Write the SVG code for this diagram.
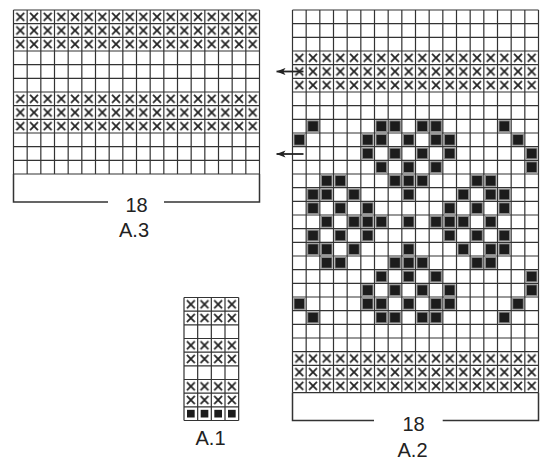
<svg xmlns="http://www.w3.org/2000/svg" xmlns:xlink="http://www.w3.org/1999/xlink" width="550" height="464" viewBox="0 0 550 464">
<style>
.grid{fill:none;stroke:#333;stroke-width:1.2}
.brk{fill:none;stroke:#333;stroke-width:1.5}
.lbl{font-family:"Liberation Sans",Arial,sans-serif;font-size:20px;fill:#222;text-anchor:middle}
.arr{stroke:#222;stroke-width:1.8;fill:none}
</style>
<defs>
<pattern id="xp" width="13.667" height="13.667" patternUnits="userSpaceOnUse">
<path d="M2.9,2.9L10.77,10.77M10.77,2.9L2.9,10.77" stroke="#222" stroke-width="1.8" fill="none"/>
</pattern>
<rect id="f" x="1.5" y="1.5" width="10.67" height="10.67" fill="#1c1c1c" stroke="#8a8a8a" stroke-width="1"/>
<rect id="s" x="3" y="3" width="7.67" height="7.67" fill="#1c1c1c"/>
<marker id="ah" viewBox="0 0 10 8" refX="10" refY="4" markerWidth="9" markerHeight="7.2" markerUnits="userSpaceOnUse" orient="auto">
<path d="M0,0L10,4L0,8L2.5,4Z" fill="#222"/>
</marker>
</defs>
<rect width="550" height="464" fill="#fff"/>

<g id="A3" transform="translate(13.5,10)">
<rect x="0" y="0" width="246" height="41" fill="url(#xp)"/>
<rect x="0" y="82" width="246" height="41" fill="url(#xp)"/>
<path class="grid" d="M0,0V164M13.67,0V164M27.33,0V164M41,0V164M54.67,0V164M68.33,0V164M82,0V164M95.67,0V164M109.33,0V164M123,0V164M136.67,0V164M150.33,0V164M164,0V164M177.67,0V164M191.33,0V164M205,0V164M218.67,0V164M232.33,0V164M246,0V164M0,0H246M0,13.67H246M0,27.33H246M0,41H246M0,54.67H246M0,68.33H246M0,82H246M0,95.67H246M0,109.33H246M0,123H246M0,136.67H246M0,150.33H246M0,164H246"/>
</g>
<g id="A3-label">
<path class="brk" d="M13.5,174V202H108M164,202H259.5V174"/>
<text class="lbl" x="136.5" y="211.5">18</text>
<text class="lbl" x="134" y="237">A.3</text>
</g>

<g id="A2" transform="translate(292.5,10)">
<rect x="0" y="41" width="246" height="41" fill="url(#xp)"/>
<rect x="0" y="341.67" width="246" height="41" fill="url(#xp)"/>
<g id="A2-fill">
<use href="#f" x="13.67" y="109.33"/><use href="#f" x="82" y="109.33"/><use href="#f" x="95.67" y="109.33"/><use href="#f" x="123" y="109.33"/><use href="#f" x="136.67" y="109.33"/><use href="#f" x="205" y="109.33"/>
<use href="#f" x="0" y="123"/><use href="#f" x="68.33" y="123"/><use href="#f" x="82" y="123"/><use href="#f" x="109.33" y="123"/><use href="#f" x="136.67" y="123"/><use href="#f" x="150.33" y="123"/><use href="#f" x="218.67" y="123"/>
<use href="#f" x="68.33" y="136.67"/><use href="#f" x="95.67" y="136.67"/><use href="#f" x="123" y="136.67"/><use href="#f" x="150.33" y="136.67"/><use href="#f" x="232.33" y="136.67"/>
<use href="#f" x="82" y="150.33"/><use href="#f" x="109.33" y="150.33"/><use href="#f" x="136.67" y="150.33"/><use href="#f" x="232.33" y="150.33"/>
<use href="#f" x="27.33" y="164"/><use href="#f" x="41" y="164"/><use href="#f" x="95.67" y="164"/><use href="#f" x="109.33" y="164"/><use href="#f" x="123" y="164"/><use href="#f" x="177.67" y="164"/><use href="#f" x="191.33" y="164"/>
<use href="#f" x="13.67" y="177.67"/><use href="#f" x="27.33" y="177.67"/><use href="#f" x="54.67" y="177.67"/><use href="#f" x="109.33" y="177.67"/><use href="#f" x="164" y="177.67"/><use href="#f" x="191.33" y="177.67"/><use href="#f" x="205" y="177.67"/>
<use href="#f" x="13.67" y="191.33"/><use href="#f" x="41" y="191.33"/><use href="#f" x="68.33" y="191.33"/><use href="#f" x="150.33" y="191.33"/><use href="#f" x="177.67" y="191.33"/><use href="#f" x="205" y="191.33"/>
<use href="#f" x="27.33" y="205"/><use href="#f" x="54.67" y="205"/><use href="#f" x="68.33" y="205"/><use href="#f" x="82" y="205"/><use href="#f" x="109.33" y="205"/><use href="#f" x="136.67" y="205"/><use href="#f" x="150.33" y="205"/><use href="#f" x="164" y="205"/><use href="#f" x="191.33" y="205"/>
<use href="#f" x="13.67" y="218.67"/><use href="#f" x="41" y="218.67"/><use href="#f" x="68.33" y="218.67"/><use href="#f" x="150.33" y="218.67"/><use href="#f" x="177.67" y="218.67"/><use href="#f" x="205" y="218.67"/>
<use href="#f" x="13.67" y="232.33"/><use href="#f" x="27.33" y="232.33"/><use href="#f" x="54.67" y="232.33"/><use href="#f" x="109.33" y="232.33"/><use href="#f" x="164" y="232.33"/><use href="#f" x="191.33" y="232.33"/><use href="#f" x="205" y="232.33"/>
<use href="#f" x="27.33" y="246"/><use href="#f" x="41" y="246"/><use href="#f" x="95.67" y="246"/><use href="#f" x="109.33" y="246"/><use href="#f" x="123" y="246"/><use href="#f" x="177.67" y="246"/><use href="#f" x="191.33" y="246"/>
<use href="#f" x="82" y="259.67"/><use href="#f" x="109.33" y="259.67"/><use href="#f" x="136.67" y="259.67"/><use href="#f" x="232.33" y="259.67"/>
<use href="#f" x="68.33" y="273.33"/><use href="#f" x="95.67" y="273.33"/><use href="#f" x="123" y="273.33"/><use href="#f" x="150.33" y="273.33"/><use href="#f" x="232.33" y="273.33"/>
<use href="#f" x="0" y="287"/><use href="#f" x="68.33" y="287"/><use href="#f" x="82" y="287"/><use href="#f" x="109.33" y="287"/><use href="#f" x="136.67" y="287"/><use href="#f" x="150.33" y="287"/><use href="#f" x="218.67" y="287"/>
<use href="#f" x="13.67" y="300.67"/><use href="#f" x="82" y="300.67"/><use href="#f" x="95.67" y="300.67"/><use href="#f" x="123" y="300.67"/><use href="#f" x="136.67" y="300.67"/><use href="#f" x="205" y="300.67"/>
</g>
<path class="grid" d="M0,0V382.67M13.67,0V382.67M27.33,0V382.67M41,0V382.67M54.67,0V382.67M68.33,0V382.67M82,0V382.67M95.67,0V382.67M109.33,0V382.67M123,0V382.67M136.67,0V382.67M150.33,0V382.67M164,0V382.67M177.67,0V382.67M191.33,0V382.67M205,0V382.67M218.67,0V382.67M232.33,0V382.67M246,0V382.67M0,0H246M0,13.67H246M0,27.33H246M0,41H246M0,54.67H246M0,68.33H246M0,82H246M0,95.67H246M0,109.33H246M0,123H246M0,136.67H246M0,150.33H246M0,164H246M0,177.67H246M0,191.33H246M0,205H246M0,218.67H246M0,232.33H246M0,246H246M0,259.67H246M0,273.33H246M0,287H246M0,300.67H246M0,314.33H246M0,328H246M0,341.67H246M0,355.33H246M0,369H246M0,382.67H246"/>
</g>
<g id="A2-label">
<path class="brk" d="M292.5,392.7V420.5H374M442.7,420.5H538.5V392.7"/>
<text class="lbl" x="413.5" y="430.5">18</text>
<text class="lbl" x="412.5" y="457">A.2</text>
</g>

<g id="A1" transform="translate(184,297.5)">
<rect x="0" y="0" width="54.67" height="27.33" fill="url(#xp)"/>
<rect x="0" y="41" width="54.67" height="27.33" fill="url(#xp)"/>
<rect x="0" y="82" width="54.67" height="27.33" fill="url(#xp)"/>
<use href="#s" x="0" y="109.33"/><use href="#s" x="13.67" y="109.33"/><use href="#s" x="27.33" y="109.33"/><use href="#s" x="41" y="109.33"/>
<path class="grid" d="M0,0V123M13.67,0V123M27.33,0V123M41,0V123M54.67,0V123M0,0H54.67M0,13.67H54.67M0,27.33H54.67M0,41H54.67M0,54.67H54.67M0,68.33H54.67M0,82H54.67M0,95.67H54.67M0,109.33H54.67M0,123H54.67"/>
</g>
<g id="A1-label">
<text class="lbl" x="210.5" y="445">A.1</text>
</g>

<g id="connectors">
<line class="arr" x1="303.5" y1="71.5" x2="276.5" y2="71.5" marker-end="url(#ah)"/>
<line class="arr" x1="303.5" y1="154" x2="276.5" y2="154" marker-end="url(#ah)"/>
</g>
</svg>
